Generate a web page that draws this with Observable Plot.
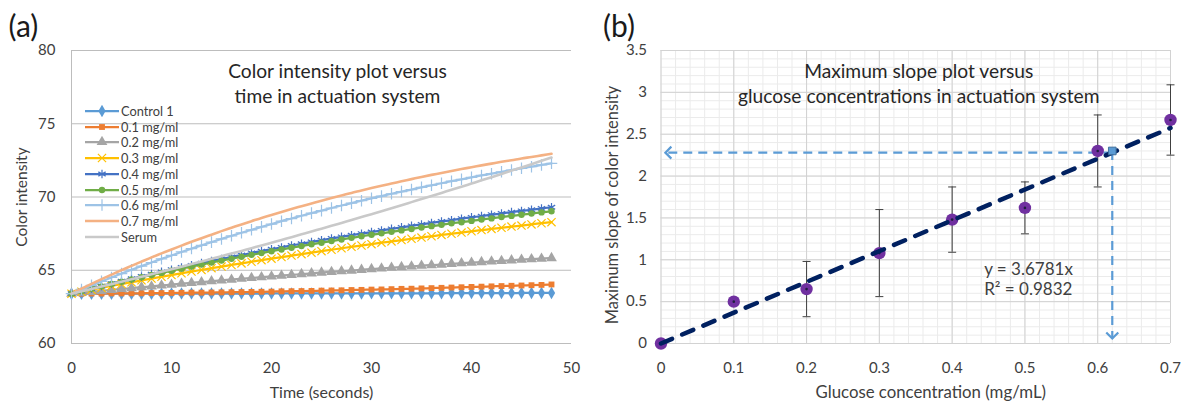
<!DOCTYPE html>
<html>
<head>
<meta charset="utf-8">
<script src="https://cdn.jsdelivr.net/npm/d3@7"></script>
<script src="https://cdn.jsdelivr.net/npm/@observablehq/plot@0.6"></script>
<style>
  body { margin: 0; background: #fff; }
  #wrap { position: relative; width: 1187px; height: 405px; overflow: hidden; background: #fff; }
  #panelA { position: absolute; left: 0; top: 0; }
  #panelB { position: absolute; left: 590px; top: 0; }
  #legend { position: absolute; left: 85px; top: 103px; font-family: Lato, "Open Sans", sans-serif; font-size: 12.8px; color: #404040; }
  #legend .row { display: flex; align-items: center; height: 15.75px; white-space: nowrap; }
  #legend svg { display: block; margin-right: 2px; }
</style>
</head>
<body>
<div id="wrap">
  <div id="panelA"></div>
  <div id="panelB"></div>
  <div id="legend"></div>
</div>
<script>
// ---------- Panel (a): colour intensity over time ----------
const time = [
  0, 1, 2, 3, 4, 5, 6, 7, 8, 9,
  10, 11, 12, 13, 14, 15, 16, 17, 18, 19,
  20, 21, 22, 23, 24, 25, 26, 27, 28, 29,
  30, 31, 32, 33, 34, 35, 36, 37, 38, 39,
  40, 41, 42, 43, 44, 45, 46, 47, 48
];
const seriesNames = ["Control 1", "0.1 mg/ml", "0.2 mg/ml", "0.3 mg/ml", "0.4 mg/ml",
                     "0.5 mg/ml", "0.6 mg/ml", "0.7 mg/ml", "Serum"];

const control1 = [
  63.40, 63.40, 63.40, 63.40, 63.40, 63.40, 63.40, 63.40, 63.40, 63.40,
  63.41, 63.41, 63.41, 63.41, 63.41, 63.41, 63.41, 63.41, 63.41, 63.41,
  63.42, 63.42, 63.42, 63.42, 63.42, 63.42, 63.42, 63.42, 63.42, 63.42,
  63.43, 63.43, 63.43, 63.43, 63.43, 63.43, 63.43, 63.43, 63.44, 63.44,
  63.44, 63.44, 63.44, 63.44, 63.44, 63.45, 63.45, 63.45, 63.45
];
const glucose01 = [
  63.40, 63.40, 63.41, 63.41, 63.42, 63.42, 63.43, 63.43, 63.44, 63.44,
  63.45, 63.46, 63.47, 63.47, 63.48, 63.49, 63.50, 63.51, 63.52, 63.53,
  63.54, 63.56, 63.57, 63.58, 63.59, 63.61, 63.62, 63.63, 63.65, 63.66,
  63.68, 63.69, 63.71, 63.73, 63.74, 63.76, 63.78, 63.80, 63.82, 63.84,
  63.86, 63.88, 63.90, 63.92, 63.94, 63.96, 63.98, 64.00, 64.03
];
const glucose02 = [
  63.40, 63.46, 63.53, 63.59, 63.66, 63.72, 63.78, 63.84, 63.90, 63.96,
  64.02, 64.08, 64.14, 64.19, 64.25, 64.31, 64.36, 64.42, 64.47, 64.53,
  64.58, 64.63, 64.68, 64.74, 64.79, 64.84, 64.89, 64.94, 64.98, 65.03,
  65.08, 65.13, 65.17, 65.22, 65.26, 65.31, 65.35, 65.39, 65.44, 65.48,
  65.52, 65.56, 65.60, 65.64, 65.68, 65.72, 65.76, 65.79, 65.83
];
const glucose03 = [
  63.40, 63.53, 63.67, 63.80, 63.93, 64.06, 64.18, 64.31, 64.43, 64.55,
  64.67, 64.79, 64.91, 65.02, 65.14, 65.25, 65.36, 65.47, 65.58, 65.69,
  65.79, 65.90, 66.00, 66.10, 66.20, 66.30, 66.40, 66.50, 66.60, 66.69,
  66.78, 66.88, 66.97, 67.06, 67.15, 67.23, 67.32, 67.41, 67.49, 67.57,
  67.66, 67.74, 67.82, 67.90, 67.98, 68.05, 68.13, 68.21, 68.28
];
const glucose04 = [
  63.40, 63.58, 63.75, 63.92, 64.09, 64.26, 64.42, 64.58, 64.74, 64.89,
  65.04, 65.19, 65.34, 65.49, 65.63, 65.77, 65.91, 66.04, 66.18, 66.31,
  66.44, 66.56, 66.69, 66.81, 66.93, 67.05, 67.17, 67.28, 67.39, 67.50,
  67.61, 67.72, 67.83, 67.93, 68.03, 68.13, 68.23, 68.33, 68.42, 68.52,
  68.61, 68.70, 68.79, 68.88, 68.97, 69.05, 69.13, 69.22, 69.30
];
const glucose05 = [
  63.40, 63.57, 63.74, 63.90, 64.06, 64.22, 64.37, 64.53, 64.68, 64.82,
  64.97, 65.11, 65.25, 65.39, 65.53, 65.66, 65.79, 65.92, 66.05, 66.17,
  66.30, 66.42, 66.54, 66.65, 66.77, 66.88, 66.99, 67.10, 67.21, 67.32,
  67.42, 67.52, 67.62, 67.72, 67.82, 67.92, 68.01, 68.10, 68.20, 68.28,
  68.37, 68.46, 68.54, 68.63, 68.71, 68.79, 68.87, 68.95, 69.03
];
const glucose06 = [
  63.40, 63.69, 63.97, 64.24, 64.51, 64.77, 65.03, 65.28, 65.53, 65.78,
  66.01, 66.25, 66.48, 66.70, 66.92, 67.14, 67.35, 67.56, 67.76, 67.96,
  68.15, 68.35, 68.53, 68.72, 68.90, 69.07, 69.25, 69.42, 69.58, 69.75,
  69.91, 70.06, 70.22, 70.37, 70.51, 70.66, 70.80, 70.94, 71.08, 71.21,
  71.34, 71.47, 71.59, 71.72, 71.84, 71.96, 72.07, 72.19, 72.30
];
const glucose07 = [
  63.40, 63.74, 64.07, 64.39, 64.70, 65.01, 65.30, 65.59, 65.88, 66.15,
  66.42, 66.68, 66.94, 67.19, 67.43, 67.67, 67.90, 68.13, 68.35, 68.57,
  68.77, 68.98, 69.18, 69.37, 69.56, 69.75, 69.93, 70.10, 70.28, 70.44,
  70.61, 70.77, 70.92, 71.07, 71.22, 71.37, 71.51, 71.64, 71.78, 71.91,
  72.03, 72.16, 72.28, 72.40, 72.51, 72.63, 72.73, 72.84, 72.95
];
const serum = [
  63.40, 63.56, 63.72, 63.89, 64.05, 64.22, 64.39, 64.55, 64.73, 64.90,
  65.07, 65.24, 65.42, 65.60, 65.78, 65.96, 66.14, 66.32, 66.51, 66.69,
  66.88, 67.07, 67.26, 67.45, 67.64, 67.84, 68.03, 68.23, 68.43, 68.63,
  68.83, 69.03, 69.24, 69.44, 69.65, 69.86, 70.07, 70.28, 70.49, 70.70,
  70.92, 71.14, 71.35, 71.57, 71.80, 72.02, 72.24, 72.47, 72.69
];
const seriesValues = [control1, glucose01, glucose02, glucose03, glucose04,
                      glucose05, glucose06, glucose07, serum];

const timeTicks = [0, 10, 20, 30, 40, 50];
const intensityTicks = [60, 65, 70, 75, 80];

// ---------- Panel (b): maximum slope vs glucose ----------
const concentration = [0, 0.1, 0.2, 0.3, 0.4, 0.5, 0.6, 0.7];
const maxSlope      = [0, 0.50, 0.65, 1.08, 1.48, 1.62, 2.30, 2.67];
const slopeError    = [null, null, 0.33, 0.52, 0.39, 0.31, 0.43, 0.42];
const concTicks  = [0, 0.1, 0.2, 0.3, 0.4, 0.5, 0.6, 0.7];
const slopeTicks = [0, 0.5, 1, 1.5, 2, 2.5, 3, 3.5];
const fitSlope = 3.6781;
const fitR2 = 0.9832;
const serumReading = {conc: 0.62, slope: 2.3};

// ---------- styling ----------
const FONT = "Lato, 'Open Sans', sans-serif";
const seriesStyle = [
  {color: "#5B9BD5", symbol: "diamond",  filled: true,  r: 3.8},
  {color: "#ED7D31", symbol: "square",   filled: true,  r: 3.3},
  {color: "#A5A5A5", symbol: "triangle", filled: true,  r: 4.0},
  {color: "#FFC000", symbol: "times",    filled: false, r: 3.8},
  {color: "#4472C4", symbol: "asterisk", filled: false, r: 4.0},
  {color: "#70AD47", symbol: "circle",   filled: true,  r: 3.2},
  {color: "#9DC3E6", symbol: "plus",     filled: false, r: 3.8},
  {color: "#F4B183", symbol: null},
  {color: "#C9C9C9", symbol: null}
];

const rowsFor = (i) => seriesValues[i].map((v, j) => ({t: time[j], v}));

const seriesMarks = seriesNames.flatMap((name, i) => {
  const s = seriesStyle[i];
  const data = rowsFor(i);
  const marks = [Plot.line(data, {x: "t", y: "v", stroke: s.color,
    strokeWidth: s.symbol ? 2.25 : 2.6, curve: "monotone-x"})];
  if (s.symbol) {
    marks.push(Plot.dot(data, {x: "t", y: "v", symbol: s.symbol, r: s.r,
      fill: s.filled ? s.color : "none",
      stroke: s.filled ? "none" : s.color,
      strokeWidth: s.filled ? 0 : 1.2}));
  }
  return marks;
});

const plotA = Plot.plot({
  width: 590, height: 405,
  marginLeft: 71, marginRight: 19, marginTop: 50, marginBottom: 62,
  style: {fontFamily: FONT, fontSize: "15px", color: "#404040", background: "transparent", overflow: "visible"},
  x: {domain: [0, 50], label: null},
  y: {domain: [60, 80], label: null},
  marks: [
    Plot.gridY({ticks: intensityTicks, stroke: "#BDBDBD", strokeOpacity: 1}),
    Plot.ruleX([0], {stroke: "#BDBDBD"}),
    Plot.axisX({ticks: timeTicks, tickSize: 0, tickPadding: 19, label: null, fontSize: 15, fill: "#404040"}),
    Plot.axisY({ticks: intensityTicks, tickSize: 0, tickPadding: 16, label: null, fontSize: 15, fill: "#404040"}),
    ...seriesMarks,
    Plot.text(["Color intensity plot versus\ntime in actuation system"], {
      frameAnchor: "top", dx: 16, dy: 9, lineAnchor: "top", fontSize: 19.2, lineHeight: 1.33, fill: "#262626"}),
    Plot.text(["Time (seconds)"], {frameAnchor: "bottom", dy: 54, fontSize: 16, fill: "#404040"}),
    Plot.text(["Color intensity"], {frameAnchor: "left", textAnchor: "middle", dx: -49, rotate: -90, fontSize: 15.5, fill: "#404040"}),
    Plot.text(["(a)"], {frameAnchor: "top-left", textAnchor: "start", dx: -63, dy: -35, fontSize: 30, fill: "#1a1a1a"})
  ]
});
document.getElementById("panelA").append(plotA);

// legend for panel (a)
const legend = d3.select("#legend");
seriesNames.forEach((name, i) => {
  const s = seriesStyle[i];
  const row = legend.append("div").attr("class", "row");
  const svg = row.append("svg").attr("width", 34).attr("height", 12);
  svg.append("line").attr("x1", 0).attr("x2", 34).attr("y1", 6).attr("y2", 6)
    .attr("stroke", s.color).attr("stroke-width", s.symbol ? 2.25 : 2.6);
  if (s.symbol) {
    const type = {diamond: d3.symbolDiamond, square: d3.symbolSquare, triangle: d3.symbolTriangle,
      times: d3.symbolTimes, asterisk: d3.symbolAsterisk, circle: d3.symbolCircle, plus: d3.symbolPlus}[s.symbol];
    svg.append("path").attr("transform", "translate(17,6)")
      .attr("d", d3.symbol(type, s.r * s.r * Math.PI)())
      .attr("fill", s.filled ? s.color : "none")
      .attr("stroke", s.filled ? "none" : s.color)
      .attr("stroke-width", s.filled ? 0 : 1.2);
  }
  row.append("span").text(name);
});

// ---------- panel (b) marks ----------
const points = concentration.map((c, i) => ({c, s: maxSlope[i], e: slopeError[i]}));
const bars = points.filter(d => d.e != null).map(d => ({c: d.c, lo: d.s - d.e, hi: d.s + d.e}));
const caps = bars.flatMap(d => [{c: d.c, y: d.lo}, {c: d.c, y: d.hi}]);
const fitLine = [0, d3.max(concentration)].map(c => ({c, s: fitSlope * c}));

// read-off guide from the serum reading back to each axis
const guideH = [{x1: serumReading.conc, x2: 0.006, y: 2.28}];
const guideV = [{x: serumReading.conc, y1: serumReading.slope, y2: 0.06}];

const capSymbol = {draw(ctx, size) { const r = Math.sqrt(size / Math.PI); ctx.moveTo(-r, 0); ctx.lineTo(r, 0); }};
const headLeft  = {draw(ctx, size) { const r = Math.sqrt(size / Math.PI); ctx.moveTo(r, -r); ctx.lineTo(0, 0); ctx.lineTo(r, r); }};
const headDown  = {draw(ctx, size) { const r = Math.sqrt(size / Math.PI); ctx.moveTo(-r, -r); ctx.lineTo(0, 0); ctx.lineTo(r, -r); }};

const GUIDE = "#5B9BD5";
const plotB = Plot.plot({
  width: 597, height: 405,
  marginLeft: 70.5, marginRight: 17, marginTop: 50, marginBottom: 62,
  style: {fontFamily: FONT, fontSize: "15px", color: "#404040", background: "transparent", overflow: "visible"},
  x: {domain: [0, 0.7], label: null},
  y: {domain: [0, 3.5], label: null},
  marks: [
    Plot.gridX({ticks: 35, stroke: "#EBEBEB", strokeOpacity: 1}),
    Plot.gridY({ticks: 35, stroke: "#EBEBEB", strokeOpacity: 1}),
    Plot.gridX({ticks: concTicks, stroke: "#D2D2D2", strokeOpacity: 1}),
    Plot.gridY({ticks: slopeTicks, stroke: "#D2D2D2", strokeOpacity: 1}),
    Plot.axisX({ticks: concTicks, tickSize: 0, tickPadding: 19, tickFormat: d3.format("~g"), label: null, fontSize: 15, fill: "#404040"}),
    Plot.axisY({ticks: slopeTicks, tickSize: 0, tickPadding: 14, tickFormat: d3.format("~g"), label: null, fontSize: 15, fill: "#404040"}),
    // guides
    Plot.link(guideH, {x1: "x1", x2: "x2", y1: "y", y2: "y", stroke: GUIDE, strokeWidth: 2.2, strokeDasharray: "9,6"}),
    Plot.link(guideV, {x1: "x", x2: "x", y1: "y1", y2: "y2", stroke: GUIDE, strokeWidth: 2.2, strokeDasharray: "9,6"}),
    Plot.dot(guideH, {x: "x2", y: "y", symbol: headLeft, r: 6, fill: "none", stroke: GUIDE, strokeWidth: 2.2}),
    Plot.dot(guideV, {x: "x", y: "y2", symbol: headDown, r: 6, fill: "none", stroke: GUIDE, strokeWidth: 2.2}),
    // error bars
    Plot.ruleX(bars, {x: "c", y1: "lo", y2: "hi", stroke: "#404040", strokeWidth: 1}),
    Plot.dot(caps, {x: "c", y: "y", symbol: capSymbol, r: 4, fill: "none", stroke: "#404040", strokeWidth: 1}),
    // measurements
    Plot.dot(points, {x: "c", y: "s", r: 6.2, fill: "#7030A0"}),
    Plot.dot(points, {x: "c", y: "s", r: 1.3, fill: "#1F1F3F"}),
    // linear fit through origin
    Plot.line(fitLine, {x: "c", y: "s", stroke: "#002060", strokeWidth: 4.5, strokeDasharray: "12,11", strokeLinecap: "round"}),
    Plot.dot([serumReading], {x: "conc", y: "slope", symbol: "square", r: 4.3, fill: "#5B9BD5", stroke: "#41719C", strokeWidth: 1}),
    Plot.text([`y = ${fitSlope}x\nR² = ${fitR2}`], {x: () => 0.444, y: () => 0.78, textAnchor: "start", fontSize: 17, lineHeight: 1.2, fill: "#404040"}),
    Plot.text(["Maximum slope plot versus\nglucose concentrations in actuation system"], {
      frameAnchor: "top", dx: 3, dy: 9, lineAnchor: "top", fontSize: 19.2, lineHeight: 1.33, fill: "#262626"}),
    Plot.text(["Glucose concentration (mg/mL)"], {frameAnchor: "bottom", dy: 54, dx: 15, fontSize: 16.8, fill: "#404040"}),
    Plot.text(["Maximum slope of color intensity"], {frameAnchor: "left", textAnchor: "middle", dx: -48, dy: 8, rotate: -90, fontSize: 16.4, fill: "#404040"}),
    Plot.text(["(b)"], {frameAnchor: "top-left", textAnchor: "start", dx: -58, dy: -35, fontSize: 30, fill: "#1a1a1a"})
  ]
});
document.getElementById("panelB").append(plotB);
</script>
</body>
</html>
